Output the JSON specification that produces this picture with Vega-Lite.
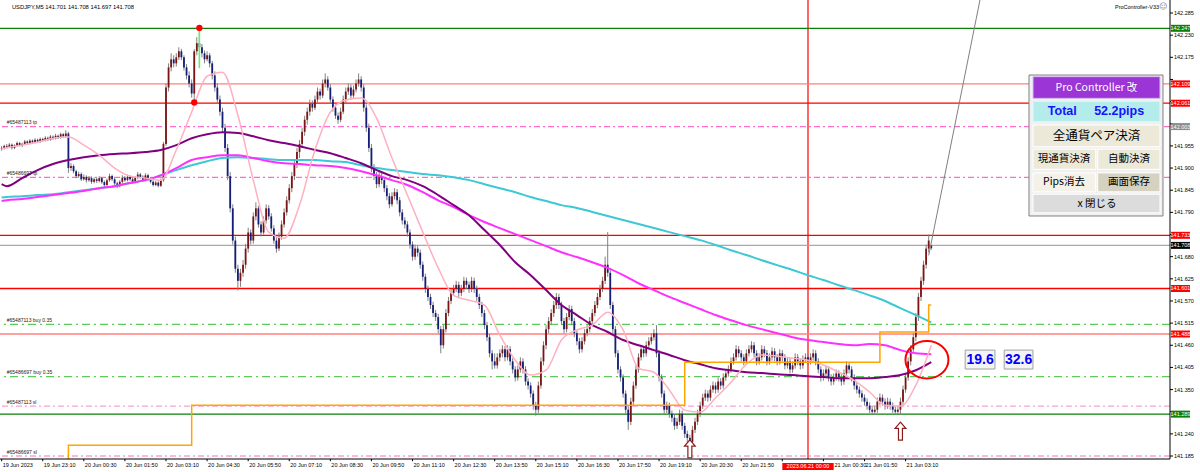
{
"$schema":"https://vega.github.io/schema/vega-lite/v6.json",
"width":1170,"height":459,
"autosize":{"type":"none"},
"padding":{"left":0,"top":0,"right":30,"bottom":13},
"background":"#ffffff",
"config":{"view":{"stroke":null},"font":"Liberation Sans"},
"resolve":{"scale":{"stroke":"independent","fill":"independent","strokeDash":"independent","color":"independent"}},
"layer":[
{"data":{"values":"t\n21 00:00","format":{"type":"csv","parse":{"t":"date:'%d %H:%M'"}}},
 "mark":{"type":"rule","color":"#ff0000","strokeWidth":1.2},
 "encoding":{"x":{"field":"t","type":"temporal","title":null,"axis":null,
     "scale":{"domain":[{"year":1900,"month":1,"date":19,"hours":21,"minutes":46,"seconds":48},{"year":1900,"month":1,"date":21,"hours":11,"minutes":44,"seconds":50}],"nice":false}}}},
{"data":{"values":[{"k":"g","p":142.247},{"k":"g","p":141.289},{"k":"lr","p":142.109},{"k":"lr","p":141.488},{"k":"r","p":142.061},{"k":"r","p":141.733},{"k":"r","p":141.601},{"k":"bid","p":141.708},{"k":"tp","p":142.003},{"k":"tp","p":141.877},{"k":"sl","p":141.309},{"k":"sl","p":141.185},{"k":"buy","p":141.512},{"k":"buy","p":141.382}]},
 "mark":{"type":"rule","strokeWidth":1.3},
 "encoding":{"y":{"field":"p","type":"quantitative","title":null,"axis":null,
     "scale":{"domain":[141.1776,142.3173],"nice":false,"zero":false}},
  "stroke":{"field":"k","type":"nominal","legend":null,"scale":{"domain":["g","r","lr","bid","tp","sl","buy"],"range":["#0a800a","#ff0000","#ff8080","#a8a8b4","#ff6ccc","#ff9fd0","#5acc5a"]}},
  "strokeDash":{"field":"k","type":"nominal","legend":null,"scale":{"domain":["g","r","lr","bid","tp","sl","buy"],"range":[[1,0],[1,0],[1,0],[1,0],[6,3,2,3],[6,3,2,3],[8,4,2,4]]}}}},
{"data":{"values":"t,o,h,l,c\n19 21:50,141.948,141.955,141.943,141.950\n19 21:55,141.950,141.958,141.946,141.955\n19 22:00,141.955,141.960,141.949,141.953\n19 22:05,141.953,141.962,141.950,141.958\n19 22:10,141.958,141.961,141.946,141.950\n19 22:15,141.950,141.959,141.947,141.956\n19 22:20,141.956,141.966,141.953,141.962\n19 22:25,141.962,141.965,141.954,141.957\n19 22:30,141.957,141.963,141.952,141.960\n19 22:35,141.960,141.970,141.957,141.966\n19 22:40,141.966,141.969,141.958,141.962\n19 22:45,141.962,141.972,141.959,141.968\n19 22:50,141.968,141.971,141.960,141.964\n19 22:55,141.964,141.974,141.961,141.970\n19 23:00,141.970,141.973,141.962,141.966\n19 23:05,141.966,141.976,141.963,141.972\n19 23:10,141.972,141.975,141.965,141.969\n19 23:15,141.969,141.979,141.966,141.975\n19 23:20,141.975,141.978,141.967,141.970\n19 23:25,141.970,141.982,141.968,141.978\n19 23:30,141.978,141.981,141.970,141.974\n19 23:35,141.974,141.985,141.971,141.980\n19 23:40,141.980,141.983,141.972,141.976\n19 23:45,141.976,141.988,141.973,141.984\n19 23:50,141.984,141.987,141.975,141.979\n19 23:55,141.979,141.994,141.976,141.986\n20 00:00,141.986,141.990,141.888,141.900\n20 00:05,141.900,141.912,141.893,141.905\n20 00:10,141.905,141.909,141.887,141.892\n20 00:15,141.892,141.896,141.875,141.880\n20 00:20,141.880,141.891,141.876,141.885\n20 00:25,141.885,141.889,141.868,141.872\n20 00:30,141.872,141.884,141.869,141.878\n20 00:35,141.878,141.882,141.864,141.870\n20 00:40,141.870,141.880,141.866,141.875\n20 00:45,141.875,141.879,141.861,141.866\n20 00:50,141.866,141.877,141.862,141.872\n20 00:55,141.872,141.876,141.863,141.868\n20 01:00,141.868,141.880,141.864,141.875\n20 01:05,141.875,141.878,141.861,141.865\n20 01:10,141.865,141.869,141.852,141.858\n20 01:15,141.858,141.874,141.855,141.870\n20 01:20,141.870,141.886,141.866,141.880\n20 01:25,141.880,141.884,141.868,141.872\n20 01:30,141.872,141.876,141.858,141.862\n20 01:35,141.862,141.866,141.850,141.855\n20 01:40,141.855,141.870,141.852,141.866\n20 01:45,141.866,141.882,141.862,141.876\n20 01:50,141.876,141.880,141.866,141.870\n20 01:55,141.870,141.884,141.867,141.878\n20 02:00,141.878,141.882,141.868,141.872\n20 02:05,141.872,141.876,141.861,141.865\n20 02:10,141.865,141.880,141.862,141.876\n20 02:15,141.876,141.890,141.872,141.884\n20 02:20,141.884,141.888,141.874,141.878\n20 02:25,141.878,141.882,141.866,141.870\n20 02:30,141.870,141.887,141.867,141.882\n20 02:35,141.882,141.886,141.870,141.874\n20 02:40,141.874,141.878,141.862,141.866\n20 02:45,141.866,141.870,141.854,141.858\n20 02:50,141.858,141.868,141.855,141.864\n20 02:55,141.864,141.867,141.852,141.856\n20 03:00,141.856,141.874,141.853,141.870\n20 03:05,141.870,141.965,141.866,141.960\n20 03:10,141.960,142.110,141.955,142.100\n20 03:15,142.100,142.160,142.090,142.150\n20 03:20,142.150,142.185,142.140,142.170\n20 03:25,142.170,142.180,142.150,142.160\n20 03:30,142.160,142.185,142.152,142.175\n20 03:35,142.175,142.200,142.168,142.190\n20 03:40,142.190,142.196,142.168,142.175\n20 03:45,142.175,142.180,142.142,142.150\n20 03:50,142.150,142.158,142.120,142.130\n20 03:55,142.130,142.140,142.100,142.110\n20 04:00,142.110,142.120,142.075,142.085\n20 04:05,142.085,142.195,142.063,142.190\n20 04:10,142.190,142.225,142.180,142.210\n20 04:15,142.210,142.248,142.190,142.200\n20 04:20,142.200,142.208,142.175,142.185\n20 04:25,142.185,142.192,142.160,142.170\n20 04:30,142.170,142.190,142.165,142.180\n20 04:35,142.180,142.186,142.150,142.160\n20 04:40,142.160,142.166,142.120,142.130\n20 04:45,142.130,142.140,142.090,142.100\n20 04:50,142.100,142.110,142.060,142.070\n20 04:55,142.070,142.080,142.030,142.040\n20 05:00,142.040,142.050,141.990,142.000\n20 05:05,142.000,142.010,141.940,141.950\n20 05:10,141.950,141.960,141.870,141.880\n20 05:15,141.880,141.890,141.790,141.800\n20 05:20,141.800,141.810,141.710,141.720\n20 05:25,141.720,141.730,141.640,141.650\n20 05:30,141.650,141.660,141.596,141.620\n20 05:35,141.620,141.650,141.605,141.640\n20 05:40,141.640,141.672,141.630,141.660\n20 05:45,141.660,141.712,141.650,141.700\n20 05:50,141.700,141.752,141.690,141.740\n20 05:55,141.740,141.748,141.710,141.720\n20 06:00,141.720,141.790,141.712,141.780\n20 06:05,141.780,141.815,141.770,141.800\n20 06:10,141.800,141.806,141.752,141.760\n20 06:15,141.760,141.768,141.730,141.740\n20 06:20,141.740,141.780,141.735,141.770\n20 06:25,141.770,141.810,141.762,141.800\n20 06:30,141.800,141.808,141.772,141.780\n20 06:35,141.780,141.788,141.742,141.750\n20 06:40,141.750,141.758,141.712,141.720\n20 06:45,141.720,141.728,141.690,141.700\n20 06:50,141.700,141.740,141.694,141.730\n20 06:55,141.730,141.770,141.722,141.760\n20 07:00,141.760,141.800,141.752,141.790\n20 07:05,141.790,141.830,141.782,141.820\n20 07:10,141.820,141.860,141.812,141.850\n20 07:15,141.850,141.890,141.840,141.880\n20 07:20,141.880,141.920,141.870,141.910\n20 07:25,141.910,141.950,141.900,141.940\n20 07:30,141.940,141.970,141.925,141.960\n20 07:35,141.960,142.000,141.950,141.990\n20 07:40,141.990,142.030,141.980,142.020\n20 07:45,142.020,142.050,142.008,142.040\n20 07:50,142.040,142.070,142.030,142.060\n20 07:55,142.060,142.068,142.040,142.050\n20 08:00,142.050,142.080,142.044,142.070\n20 08:05,142.070,142.100,142.062,142.090\n20 08:10,142.090,142.097,142.070,142.080\n20 08:15,142.080,142.120,142.074,142.110\n20 08:20,142.110,142.135,142.100,142.120\n20 08:25,142.120,142.128,142.092,142.100\n20 08:30,142.100,142.108,142.062,142.070\n20 08:35,142.070,142.078,142.040,142.050\n20 08:40,142.050,142.058,142.022,142.030\n20 08:45,142.030,142.038,142.010,142.020\n20 08:50,142.020,142.050,142.014,142.040\n20 08:55,142.040,142.080,142.034,142.070\n20 09:00,142.070,142.100,142.062,142.090\n20 09:05,142.090,142.110,142.082,142.100\n20 09:10,142.100,142.108,142.070,142.080\n20 09:15,142.080,142.105,142.074,142.095\n20 09:20,142.095,142.120,142.088,142.110\n20 09:25,142.110,142.135,142.102,142.120\n20 09:30,142.120,142.128,142.090,142.100\n20 09:35,142.100,142.108,142.040,142.050\n20 09:40,142.050,142.058,141.990,142.000\n20 09:45,142.000,142.010,141.940,141.950\n20 09:50,141.950,141.960,141.890,141.900\n20 09:55,141.900,141.910,141.870,141.880\n20 10:00,141.880,141.890,141.850,141.860\n20 10:05,141.860,141.890,141.852,141.880\n20 10:10,141.880,141.888,141.860,141.870\n20 10:15,141.870,141.878,141.840,141.850\n20 10:20,141.850,141.858,141.820,141.830\n20 10:25,141.830,141.838,141.800,141.810\n20 10:30,141.810,141.840,141.804,141.830\n20 10:35,141.830,141.850,141.822,141.840\n20 10:40,141.840,141.848,141.810,141.820\n20 10:45,141.820,141.828,141.780,141.790\n20 10:50,141.790,141.798,141.760,141.770\n20 10:55,141.770,141.778,141.750,141.760\n20 11:00,141.760,141.768,141.730,141.740\n20 11:05,141.740,141.748,141.700,141.710\n20 11:10,141.710,141.718,141.670,141.680\n20 11:15,141.680,141.710,141.672,141.700\n20 11:20,141.700,141.708,141.680,141.690\n20 11:25,141.690,141.698,141.650,141.660\n20 11:30,141.660,141.668,141.620,141.630\n20 11:35,141.630,141.638,141.590,141.600\n20 11:40,141.600,141.608,141.570,141.580\n20 11:45,141.580,141.588,141.550,141.560\n20 11:50,141.560,141.568,141.530,141.540\n20 11:55,141.540,141.548,141.520,141.530\n20 12:00,141.530,141.538,141.490,141.500\n20 12:05,141.500,141.508,141.440,141.460\n20 12:10,141.460,141.510,141.452,141.500\n20 12:15,141.500,141.550,141.492,141.540\n20 12:20,141.540,141.580,141.532,141.570\n20 12:25,141.570,141.600,141.562,141.590\n20 12:30,141.590,141.610,141.582,141.600\n20 12:35,141.600,141.620,141.592,141.610\n20 12:40,141.610,141.618,141.580,141.590\n20 12:45,141.590,141.610,141.582,141.600\n20 12:50,141.600,141.630,141.592,141.620\n20 12:55,141.620,141.628,141.600,141.610\n20 13:00,141.610,141.618,141.590,141.600\n20 13:05,141.600,141.630,141.592,141.620\n20 13:10,141.620,141.628,141.590,141.600\n20 13:15,141.600,141.608,141.570,141.580\n20 13:20,141.580,141.588,141.550,141.560\n20 13:25,141.560,141.568,141.530,141.540\n20 13:30,141.540,141.548,141.500,141.510\n20 13:35,141.510,141.518,141.470,141.480\n20 13:40,141.480,141.488,141.430,141.440\n20 13:45,141.440,141.448,141.400,141.420\n20 13:50,141.420,141.440,141.402,141.410\n20 13:55,141.410,141.440,141.402,141.430\n20 14:00,141.430,141.450,141.420,141.440\n20 14:05,141.440,141.460,141.430,141.450\n20 14:10,141.450,141.458,141.420,141.430\n20 14:15,141.430,141.460,141.422,141.450\n20 14:20,141.450,141.458,141.410,141.420\n20 14:25,141.420,141.428,141.390,141.400\n20 14:30,141.400,141.408,141.370,141.380\n20 14:35,141.380,141.410,141.372,141.400\n20 14:40,141.400,141.430,141.392,141.420\n20 14:45,141.420,141.428,141.390,141.400\n20 14:50,141.400,141.408,141.360,141.370\n20 14:55,141.370,141.378,141.350,141.360\n20 15:00,141.360,141.368,141.330,141.340\n20 15:05,141.340,141.348,141.300,141.310\n20 15:10,141.310,141.320,141.285,141.300\n20 15:15,141.300,141.370,141.292,141.360\n20 15:20,141.360,141.430,141.352,141.420\n20 15:25,141.420,141.470,141.410,141.460\n20 15:30,141.460,141.510,141.450,141.500\n20 15:35,141.500,141.530,141.490,141.520\n20 15:40,141.520,141.550,141.510,141.540\n20 15:45,141.540,141.570,141.530,141.560\n20 15:50,141.560,141.590,141.550,141.580\n20 15:55,141.580,141.588,141.550,141.560\n20 16:00,141.560,141.568,141.510,141.520\n20 16:05,141.520,141.528,141.490,141.500\n20 16:10,141.500,141.540,141.492,141.530\n20 16:15,141.530,141.560,141.522,141.550\n20 16:20,141.550,141.558,141.510,141.520\n20 16:25,141.520,141.528,141.480,141.490\n20 16:30,141.490,141.498,141.460,141.470\n20 16:35,141.470,141.478,141.440,141.450\n20 16:40,141.450,141.480,141.442,141.470\n20 16:45,141.470,141.500,141.462,141.490\n20 16:50,141.490,141.510,141.482,141.500\n20 16:55,141.500,141.530,141.492,141.520\n20 17:00,141.520,141.550,141.512,141.540\n20 17:05,141.540,141.570,141.532,141.560\n20 17:10,141.560,141.590,141.552,141.580\n20 17:15,141.580,141.610,141.572,141.600\n20 17:20,141.600,141.630,141.592,141.620\n20 17:25,141.620,141.680,141.612,141.660\n20 17:30,141.660,141.741,141.630,141.640\n20 17:35,141.640,141.648,141.550,141.560\n20 17:40,141.560,141.568,141.490,141.500\n20 17:45,141.500,141.508,141.430,141.440\n20 17:50,141.440,141.448,141.390,141.400\n20 17:55,141.400,141.408,141.370,141.380\n20 18:00,141.380,141.388,141.330,141.340\n20 18:05,141.340,141.348,141.290,141.300\n20 18:10,141.300,141.308,141.250,141.270\n20 18:15,141.270,141.330,141.262,141.320\n20 18:20,141.320,141.370,141.312,141.360\n20 18:25,141.360,141.410,141.352,141.400\n20 18:30,141.400,141.440,141.392,141.430\n20 18:35,141.430,141.460,141.422,141.450\n20 18:40,141.450,141.458,141.430,141.440\n20 18:45,141.440,141.470,141.432,141.460\n20 18:50,141.460,141.480,141.452,141.470\n20 18:55,141.470,141.490,141.462,141.480\n20 19:00,141.480,141.500,141.472,141.490\n20 19:05,141.490,141.510,141.430,141.440\n20 19:10,141.440,141.448,141.370,141.380\n20 19:15,141.380,141.388,141.330,141.340\n20 19:20,141.340,141.348,141.290,141.300\n20 19:25,141.300,141.320,141.292,141.310\n20 19:30,141.310,141.318,141.280,141.290\n20 19:35,141.290,141.298,141.270,141.280\n20 19:40,141.280,141.288,141.250,141.260\n20 19:45,141.260,141.280,141.252,141.270\n20 19:50,141.270,141.300,141.262,141.290\n20 19:55,141.290,141.298,141.250,141.260\n20 20:00,141.260,141.268,141.230,141.240\n20 20:05,141.240,141.248,141.220,141.230\n20 20:10,141.230,141.238,141.212,141.220\n20 20:15,141.220,141.260,141.215,141.250\n20 20:20,141.250,141.280,141.242,141.270\n20 20:25,141.270,141.300,141.262,141.290\n20 20:30,141.290,141.320,141.282,141.310\n20 20:35,141.310,141.340,141.302,141.330\n20 20:40,141.330,141.350,141.322,141.340\n20 20:45,141.340,141.348,141.320,141.330\n20 20:50,141.330,141.360,141.322,141.350\n20 20:55,141.350,141.370,141.342,141.360\n20 21:00,141.360,141.368,141.340,141.350\n20 21:05,141.350,141.380,141.342,141.370\n20 21:10,141.370,141.378,141.350,141.360\n20 21:15,141.360,141.390,141.352,141.380\n20 21:20,141.380,141.400,141.372,141.390\n20 21:25,141.390,141.410,141.382,141.400\n20 21:30,141.400,141.430,141.392,141.420\n20 21:35,141.420,141.440,141.412,141.430\n20 21:40,141.430,141.460,141.422,141.450\n20 21:45,141.450,141.458,141.430,141.440\n20 21:50,141.440,141.448,141.420,141.430\n20 21:55,141.430,141.438,141.410,141.420\n20 22:00,141.420,141.450,141.412,141.440\n20 22:05,141.440,141.460,141.432,141.450\n20 22:10,141.450,141.470,141.442,141.460\n20 22:15,141.460,141.468,141.430,141.440\n20 22:20,141.440,141.448,141.410,141.420\n20 22:25,141.420,141.440,141.412,141.430\n20 22:30,141.430,141.460,141.422,141.450\n20 22:35,141.450,141.458,141.430,141.440\n20 22:40,141.440,141.448,141.410,141.420\n20 22:45,141.420,141.440,141.412,141.430\n20 22:50,141.430,141.455,141.422,141.445\n20 22:55,141.445,141.453,141.420,141.430\n20 23:00,141.430,141.438,141.410,141.420\n20 23:05,141.420,141.450,141.412,141.440\n20 23:10,141.440,141.448,141.420,141.430\n20 23:15,141.430,141.438,141.400,141.410\n20 23:20,141.410,141.430,141.402,141.420\n20 23:25,141.420,141.428,141.390,141.400\n20 23:30,141.400,141.420,141.392,141.410\n20 23:35,141.410,141.440,141.402,141.430\n20 23:40,141.430,141.438,141.410,141.420\n20 23:45,141.420,141.428,141.400,141.410\n20 23:50,141.410,141.435,141.402,141.425\n20 23:55,141.425,141.440,141.418,141.430\n21 00:00,141.430,141.438,141.410,141.420\n21 00:05,141.420,141.440,141.412,141.430\n21 00:10,141.430,141.450,141.422,141.440\n21 00:15,141.440,141.448,141.410,141.420\n21 00:20,141.420,141.428,141.390,141.400\n21 00:25,141.400,141.408,141.370,141.380\n21 00:30,141.380,141.400,141.372,141.390\n21 00:35,141.390,141.410,141.382,141.400\n21 00:40,141.400,141.408,141.370,141.380\n21 00:45,141.380,141.388,141.360,141.370\n21 00:50,141.370,141.390,141.362,141.380\n21 00:55,141.380,141.400,141.372,141.390\n21 01:00,141.390,141.398,141.370,141.380\n21 01:05,141.380,141.388,141.360,141.370\n21 01:10,141.370,141.400,141.362,141.390\n21 01:15,141.390,141.420,141.382,141.410\n21 01:20,141.410,141.418,141.390,141.400\n21 01:25,141.400,141.408,141.370,141.380\n21 01:30,141.380,141.388,141.350,141.360\n21 01:35,141.360,141.368,141.340,141.350\n21 01:40,141.350,141.358,141.330,141.340\n21 01:45,141.340,141.348,141.320,141.330\n21 01:50,141.330,141.338,141.310,141.320\n21 01:55,141.320,141.328,141.300,141.310\n21 02:00,141.310,141.318,141.292,141.300\n21 02:05,141.300,141.308,141.288,141.295\n21 02:10,141.295,141.310,141.287,141.300\n21 02:15,141.300,141.330,141.292,141.320\n21 02:20,141.320,141.340,141.312,141.330\n21 02:25,141.330,141.338,141.310,141.320\n21 02:30,141.320,141.328,141.300,141.310\n21 02:35,141.310,141.330,141.302,141.320\n21 02:40,141.320,141.328,141.300,141.310\n21 02:45,141.310,141.318,141.292,141.300\n21 02:50,141.300,141.308,141.290,141.295\n21 02:55,141.295,141.310,141.288,141.300\n21 03:00,141.300,141.330,141.287,141.320\n21 03:05,141.320,141.360,141.312,141.350\n21 03:10,141.350,141.390,141.342,141.380\n21 03:15,141.380,141.430,141.372,141.420\n21 03:20,141.420,141.460,141.410,141.450\n21 03:25,141.450,141.490,141.440,141.480\n21 03:30,141.480,141.540,141.470,141.530\n21 03:35,141.530,141.590,141.520,141.580\n21 03:40,141.580,141.630,141.570,141.620\n21 03:45,141.620,141.670,141.610,141.660\n21 03:50,141.660,141.710,141.650,141.700\n21 03:55,141.700,141.735,141.690,141.720\n21 04:00,141.701,141.708,141.697,141.708","format":{"type":"csv","parse":{"t":"date:'%d %H:%M'","o":"number","h":"number","l":"number","c":"number"}}},
 "layer":[
  {"mark":{"type":"rule","color":"#808080","strokeWidth":1},
   "encoding":{"x":{"field":"t","type":"temporal","axis":null,"title":null},"y":{"field":"l","type":"quantitative","axis":null,"title":null},"y2":{"field":"h"}}},
  {"mark":{"type":"rule","strokeWidth":1.8},
   "encoding":{"x":{"field":"t","type":"temporal","axis":null,"title":null},
    "y":{"field":"o","type":"quantitative","axis":null,"title":null},"y2":{"field":"c"},
    "color":{"condition":{"test":"datum.c >= datum.o","value":"#7a1414"},"value":"#141e78"}}}
 ]},
{"data":{"values":"t,lo,hi\n20 04:15,142.148,142.243","format":{"type":"csv","parse":{"t":"date:'%d %H:%M'","lo":"number","hi":"number"}}},
 "mark":{"type":"rule","color":"#66ee66","strokeWidth":1.6},
 "encoding":{"x":{"field":"t","type":"temporal","axis":null,"title":null},"y":{"field":"lo","type":"quantitative","axis":null,"title":null},"y2":{"field":"hi"}}},
{"data":{"values":"t,cy,mg,pu,pk\n19 21:50,141.827,141.818,141.860,141.948\n19 22:00,141.828,141.820,141.855,141.950\n19 22:30,141.830,141.823,141.875,141.957\n19 23:00,141.833,141.828,141.895,141.964\n19 23:30,141.835,141.833,141.910,141.974\n20 00:00,141.840,141.838,141.920,141.977\n20 00:30,141.845,141.843,141.927,141.957\n20 01:00,141.850,141.850,141.932,141.932\n20 01:30,141.855,141.855,141.935,141.900\n20 02:00,141.863,141.863,141.937,141.880\n20 02:30,141.870,141.870,141.940,141.875\n20 03:00,141.882,141.882,141.945,141.870\n20 03:30,141.895,141.900,141.957,141.945\n20 04:00,141.907,141.920,141.974,142.039\n20 04:30,141.917,141.927,141.984,142.128\n20 05:00,141.925,141.932,141.989,142.138\n20 05:30,141.927,141.932,141.987,142.031\n20 06:00,141.925,141.925,141.979,141.870\n20 06:30,141.922,141.917,141.969,141.741\n20 07:00,141.920,141.912,141.962,141.726\n20 07:30,141.920,141.910,141.954,141.808\n20 08:00,141.920,141.907,141.945,141.945\n20 08:30,141.917,141.905,141.937,142.039\n20 09:00,141.915,141.900,141.925,142.069\n20 09:30,141.907,141.892,141.912,142.074\n20 10:00,141.900,141.882,141.895,142.024\n20 10:30,141.895,141.870,141.880,141.925\n20 11:00,141.890,141.858,141.870,141.833\n20 11:30,141.885,141.840,141.855,141.741\n20 12:00,141.882,141.820,141.833,141.652\n20 12:30,141.877,141.803,141.808,141.584\n20 13:00,141.870,141.783,141.783,141.572\n20 13:30,141.860,141.766,141.746,141.560\n20 14:00,141.850,141.751,141.709,141.485\n20 14:30,141.840,141.736,141.666,141.423\n20 15:00,141.828,141.721,141.634,141.386\n20 15:30,141.818,141.706,141.597,141.398\n20 16:00,141.808,141.691,141.560,141.473\n20 16:30,141.801,141.679,141.535,141.498\n20 17:00,141.791,141.666,141.510,141.510\n20 17:30,141.781,141.652,141.493,141.542\n20 18:00,141.771,141.634,141.473,141.498\n20 18:30,141.761,141.614,141.460,141.403\n20 19:00,141.751,141.597,141.448,141.393\n20 19:30,141.741,141.580,141.436,141.349\n20 20:00,141.731,141.565,141.423,141.299\n20 20:30,141.721,141.550,141.413,141.294\n20 21:00,141.709,141.535,141.403,141.329\n20 21:30,141.696,141.522,141.398,141.368\n20 22:00,141.684,141.510,141.393,141.413\n20 22:30,141.671,141.500,141.391,141.436\n20 23:00,141.659,141.490,141.388,141.433\n20 23:30,141.647,141.480,141.386,141.428\n21 00:00,141.634,141.473,141.383,141.423\n21 00:30,141.622,141.468,141.381,141.411\n21 01:00,141.609,141.463,141.378,141.393\n21 01:30,141.597,141.460,141.378,141.373\n21 02:00,141.584,141.463,141.378,141.344\n21 02:30,141.570,141.460,141.381,141.311\n21 03:00,141.552,141.448,141.386,141.309\n21 03:30,141.535,141.440,141.398,141.361\n21 04:00,141.517,141.438,141.418,141.460","format":{"type":"csv","parse":{"t":"date:'%d %H:%M'","cy":"number","mg":"number","pu":"number","pk":"number"}}},
 "layer":[
  {"mark":{"type":"line","color":"#3cc8d4","strokeWidth":2,"interpolate":"monotone"},"encoding":{"x":{"field":"t","type":"temporal","axis":null,"title":null},"y":{"field":"cy","type":"quantitative","axis":null,"title":null}}},
  {"mark":{"type":"line","color":"#ff30ff","strokeWidth":2,"interpolate":"monotone"},"encoding":{"x":{"field":"t","type":"temporal","axis":null,"title":null},"y":{"field":"mg","type":"quantitative","axis":null,"title":null}}},
  {"mark":{"type":"line","color":"#800080","strokeWidth":2,"interpolate":"monotone"},"encoding":{"x":{"field":"t","type":"temporal","axis":null,"title":null},"y":{"field":"pu","type":"quantitative","axis":null,"title":null}}},
  {"mark":{"type":"line","color":"#ffb0c0","strokeWidth":1.5,"interpolate":"monotone"},"encoding":{"x":{"field":"t","type":"temporal","axis":null,"title":null},"y":{"field":"pk","type":"quantitative","axis":null,"title":null}}}
 ]},
{"data":{"values":"t,p\n20 00:00,141.150\n20 00:00,141.212\n20 04:00,141.311\n20 20:00,141.418\n21 02:20,141.493\n21 03:55,141.560\n21 04:00,141.560","format":{"type":"csv","parse":{"t":"date:'%d %H:%M'","p":"number"}}},
 "mark":{"type":"line","color":"#ffa500","strokeWidth":1.5,"interpolate":"step-after","clip":true},
 "encoding":{"x":{"field":"t","type":"temporal","axis":null,"title":null},"y":{"field":"p","type":"quantitative","axis":null,"title":null}}},
{"data":{"values":"t,p\n21 03:55,141.683\n21 05:45,142.382","format":{"type":"csv","parse":{"t":"date:'%d %H:%M'","p":"number"}}},
 "mark":{"type":"line","color":"#808080","strokeWidth":1,"clip":true},
 "encoding":{"x":{"field":"t","type":"temporal","axis":null,"title":null},"y":{"field":"p","type":"quantitative","axis":null,"title":null}}},
{"data":{"values":[{}]},
 "mark":{"type":"point","shape":"M-1,0A1,0.87,0,1,1,1,0A1,0.87,0,1,1,-1,0Z","size":1849,"filled":false,"stroke":"#ff0000","strokeWidth":2,"opacity":1},
 "encoding":{"x":{"datum":{"year":1900,"month":1,"date":21,"hours":3,"minutes":51,"seconds":36},"type":"temporal","axis":null},"y":{"datum":141.424,"type":"quantitative","axis":null}}},
{"data":{"values":"t,p\n20 20:10,141.203\n21 03:00,141.247","format":{"type":"csv","parse":{"t":"date:'%d %H:%M'","p":"number"}}},
 "mark":{"type":"point","shape":"M0,-1L0.6,-0.3L0.22,-0.3L0.22,1L-0.22,1L-0.22,-0.3L-0.6,-0.3Z","size":324,"filled":true,"fill":"#ffffff","stroke":"#8b1c1c","strokeWidth":1.2,"opacity":1},
 "encoding":{"x":{"field":"t","type":"temporal","axis":null,"title":null},"y":{"field":"p","type":"quantitative","axis":null,"title":null}}},
{"data":{"values":"t,p\n20 04:05,142.063\n20 04:15,142.248","format":{"type":"csv","parse":{"t":"date:'%d %H:%M'","p":"number"}}},
 "mark":{"type":"point","shape":"circle","size":40,"filled":true,"color":"#ff0000","opacity":1},
 "encoding":{"x":{"field":"t","type":"temporal","axis":null,"title":null},"y":{"field":"p","type":"quantitative","axis":null,"title":null}}},
{"data":{"values":[{"n":"#65487113 tp","p":142.003},{"n":"#65486697 tp","p":141.877},{"n":"#65487113 buy 0.35","p":141.512},{"n":"#65486697 buy 0.35","p":141.382},{"n":"#65487113 sl","p":141.309},{"n":"#65486697 sl","p":141.185}]},
 "mark":{"type":"text","align":"left","baseline":"middle","dy":-4.5,"fontSize":5,"font":"Liberation Sans","color":"#202020"},
 "encoding":{"x":{"datum":{"year":1900,"month":1,"date":19,"hours":22,"minutes":0},"type":"temporal","axis":null},"y":{"field":"p","type":"quantitative","axis":null,"title":null},"text":{"field":"n"}}},
{"data":{"values":[{"p":142.285},{"p":142.23},{"p":142.175},{"p":142.12},{"p":142.065},{"p":142.01},{"p":141.955},{"p":141.9},{"p":141.845},{"p":141.79},{"p":141.735},{"p":141.68},{"p":141.625},{"p":141.57},{"p":141.515},{"p":141.46},{"p":141.405},{"p":141.35},{"p":141.295},{"p":141.24},{"p":141.185}]},
 "layer":[
  {"mark":{"type":"rule","color":"#000000","strokeWidth":1},
   "encoding":{"x":{"datum":{"year":1900,"month":1,"date":21,"hours":11,"minutes":44,"seconds":50},"type":"temporal","axis":null},"x2":{"datum":{"year":1900,"month":1,"date":21,"hours":11,"minutes":50,"seconds":40}},"y":{"field":"p","type":"quantitative","axis":null,"title":null}}},
  {"transform":[{"filter":"indexof([142.12,142.065,142.01,141.735,141.295], datum.p) < 0"}],
   "mark":{"type":"text","align":"left","baseline":"middle","fontSize":5.5,"font":"Liberation Sans","color":"#000000"},
   "encoding":{"x":{"datum":{"year":1900,"month":1,"date":21,"hours":11,"minutes":52,"seconds":36},"type":"temporal","axis":null},"y":{"field":"p","type":"quantitative","axis":null,"title":null},"text":{"field":"p","type":"quantitative","format":".3f"}}}
 ]},
{"data":{"values":"t\n19 21:50\n19 23:10\n20 00:30\n20 01:50\n20 03:10\n20 04:30\n20 05:50\n20 07:10\n20 08:30\n20 09:50\n20 11:10\n20 12:30\n20 13:50\n20 15:10\n20 16:30\n20 17:50\n20 19:10\n20 20:30\n20 21:50\n20 23:10\n21 00:30\n21 01:50\n21 03:10","format":{"type":"csv","parse":{"t":"date:'%d %H:%M'"}}},
 "layer":[
  {"mark":{"type":"rule","color":"#000000","strokeWidth":1},
   "encoding":{"x":{"field":"t","type":"temporal","axis":null,"title":null},"y":{"datum":141.1776,"type":"quantitative","axis":null},"y2":{"datum":141.1721}}},
  {"transform":[{"filter":"timeFormat(datum.t,'%d %H:%M') != '19 21:50' && timeFormat(datum.t,'%d %H:%M') != '20 23:10' && timeFormat(datum.t,'%d %H:%M') != '21 00:30'"}],
   "mark":{"type":"text","align":"left","baseline":"top","dx":1,"fontSize":5.5,"font":"Liberation Sans","color":"#000000"},
   "encoding":{"x":{"field":"t","type":"temporal","axis":null,"title":null},"y":{"datum":141.1682,"type":"quantitative","axis":null},"text":{"field":"t","type":"temporal","format":"%d Jun %H:%M"}}},
  {"transform":[{"filter":"timeFormat(datum.t,'%d %H:%M') == '21 00:30'"}],
   "mark":{"type":"text","align":"left","baseline":"top","dx":11,"fontSize":5.5,"font":"Liberation Sans","color":"#000000"},
   "encoding":{"x":{"field":"t","type":"temporal","axis":null,"title":null},"y":{"datum":141.1682,"type":"quantitative","axis":null},"text":{"field":"t","type":"temporal","format":"%d Jun %H:%M"}}}
 ]},
{"data":{"values":[{}]},
 "layer":[
  {"mark":{"type":"rule","color":"#000000","strokeWidth":1},
   "encoding":{"x":{"datum":{"year":1900,"month":1,"date":21,"hours":11,"minutes":44,"seconds":50},"type":"temporal","axis":null}}},
  {"mark":{"type":"rule","color":"#000000","strokeWidth":1},
   "encoding":{"y":{"datum":141.1776,"type":"quantitative","axis":null}}},
  {"mark":{"type":"text","align":"left","baseline":"top","dx":1,"fontSize":5.5,"font":"Liberation Sans","color":"#000000","text":"19 Jun 2023"},
   "encoding":{"x":{"datum":{"year":1900,"month":1,"date":19,"hours":21,"minutes":50},"type":"temporal","axis":null},"y":{"datum":141.1682,"type":"quantitative","axis":null}}}
 ]},
{"data":{"values":[{"k":"g","p":142.247},{"k":"r","p":142.109},{"k":"r","p":142.061},{"k":"gray","p":142.003},{"k":"r","p":141.733},{"k":"bid","p":141.708},{"k":"r","p":141.601},{"k":"r","p":141.488},{"k":"g","p":141.289}]},
 "layer":[
  {"mark":{"type":"rule","strokeWidth":7,"strokeCap":"butt"},
   "encoding":{"x":{"datum":{"year":1900,"month":1,"date":21,"hours":11,"minutes":46,"seconds":48},"type":"temporal","axis":null},"x2":{"datum":{"year":1900,"month":1,"date":21,"hours":12,"minutes":23,"seconds":45}},"y":{"field":"p","type":"quantitative","axis":null,"title":null},
    "stroke":{"field":"k","type":"nominal","legend":null,"scale":{"domain":["g","r","gray","bid"],"range":["#0a800a","#ff0000","#8c8c8c","#000000"]}}}},
  {"mark":{"type":"text","align":"center","baseline":"middle","fontSize":5.5,"font":"Liberation Sans","color":"#ffffff"},
   "encoding":{"x":{"datum":{"year":1900,"month":1,"date":21,"hours":12,"minutes":5,"seconds":15},"type":"temporal","axis":null},"y":{"field":"p","type":"quantitative","axis":null,"title":null},"text":{"field":"p","type":"quantitative","format":".3f"}}}
 ]},
{"data":{"values":[{"s":"2023.06.21 00:00","p":141.1590}]},
 "layer":[
  {"mark":{"type":"rule","strokeWidth":7,"strokeCap":"butt","color":"#ff0000"},
   "encoding":{"x":{"datum":{"year":1900,"month":1,"date":20,"hours":23,"minutes":10},"type":"temporal","axis":null},"x2":{"datum":{"year":1900,"month":1,"date":21,"hours":0,"minutes":50}},"y":{"field":"p","type":"quantitative","axis":null,"title":null}}},
  {"mark":{"type":"text","align":"center","baseline":"middle","fontSize":5.5,"font":"Liberation Sans","color":"#ffffff"},
   "encoding":{"x":{"datum":{"year":1900,"month":1,"date":21,"hours":0,"minutes":0},"type":"temporal","axis":null},"y":{"field":"p","type":"quantitative","axis":null,"title":null},"text":{"field":"s"}}}
 ]},
{"data":{"values":[{}]},
 "layer":[
  {"mark":{"type":"text","align":"left","baseline":"middle","fontSize":5.8,"font":"Liberation Sans","color":"#000000","text":"USDJPY,M5  141.701 141.708 141.697 141.708"},
   "encoding":{"x":{"datum":{"year":1900,"month":1,"date":19,"hours":22,"minutes":10},"type":"temporal","axis":null},"y":{"datum":142.300,"type":"quantitative","axis":null}}},
  {"mark":{"type":"text","align":"right","baseline":"middle","fontSize":5.5,"font":"Liberation Sans","color":"#000000","text":"ProController-V33"},
   "encoding":{"x":{"datum":{"year":1900,"month":1,"date":21,"hours":11,"minutes":23,"seconds":30},"type":"temporal","axis":null},"y":{"datum":142.300,"type":"quantitative","axis":null}}},
  {"mark":{"type":"text","align":"center","baseline":"middle","fontSize":8,"font":"DejaVu Sans","color":"#808080","text":"☺"},
   "encoding":{"x":{"datum":{"year":1900,"month":1,"date":21,"hours":11,"minutes":32},"type":"temporal","axis":null},"y":{"datum":142.300,"type":"quantitative","axis":null}}}
 ]},
{"data":{"values":"b,t1,t2,p1,p2\nouter,21 07:10:18,21 11:31:12,142.131,141.781\nhdr,21 07:18:06,21 11:25:21,142.127,142.073\ntot,21 07:18:06,21 11:25:21,142.066,142.015\nall,21 07:18:06,21 11:25:21,142.007,141.953\ncur,21 07:18:06,21 09:20:10,141.947,141.897\nauto,21 09:24:04,21 11:25:21,141.947,141.897\npips,21 07:18:06,21 09:20:10,141.888,141.841\nsave,21 09:24:04,21 11:25:21,141.888,141.841\nclose,21 07:18:06,21 11:25:21,141.835,141.789\nbox1,21 05:06:00,21 06:04:00,141.448,141.401\nbox2,21 06:22:00,21 07:18:00,141.448,141.401","format":{"type":"csv","parse":{"t1":"date:'%d %H:%M:%S'","t2":"date:'%d %H:%M:%S'","p1":"number","p2":"number"}}},
 "mark":{"type":"rect","strokeWidth":1},
 "encoding":{"x":{"field":"t1","type":"temporal","axis":null,"title":null},"x2":{"field":"t2"},"y":{"field":"p1","type":"quantitative","axis":null,"title":null},"y2":{"field":"p2"},
  "fill":{"field":"b","type":"nominal","legend":null,"scale":{"domain":["outer","hdr","tot","all","cur","auto","pips","save","close","box1","box2"],"range":["#f0f0f0","#9b35d6","#b4ecec","#ece9d8","#ece9d8","#ece9d8","#f4f2e8","#d6d2c2","#dcdcdc","#f4f4f4","#f4f4f4"]}},
  "stroke":{"field":"b","type":"nominal","legend":null,"scale":{"domain":["outer","hdr","tot","all","cur","auto","pips","save","close","box1","box2"],"range":["#808080","#d8c0f0","#e0f8f8","#ffffff","#ffffff","#ffffff","#ffffff","#ffffff","#ffffff","#a0a0a0","#a0a0a0"]}}}},
{"data":{"values":"g,s,t,p\nhdr,Pro Controller 改,21 09:21:42,142.100\nbig,全通貨ペア決済,21 09:21:42,141.980\nsm,現通貨決済,21 08:18:27,141.922\nsm,自動決済,21 10:25:00,141.922\nsm,Pips消去,21 08:18:27,141.865\nsm,画面保存,21 10:25:00,141.865\nsm,x 閉じる,21 09:22:42,141.812\ntot,Total\u00a0\u00a0\u00a0\u00a0\u00a052.2pips,21 09:20:45,142.041\nnum,19.6,21 05:35:00,141.4245\nnum,32.6,21 06:50:00,141.4245","format":{"type":"csv","parse":{"t":"date:'%d %H:%M:%S'","p":"number"}}},
 "layer":[
  {"transform":[{"filter":"datum.g=='hdr'"}],"mark":{"type":"text","align":"center","baseline":"middle","fontSize":10.5,"font":"Noto Sans CJK JP","color":"#ffffff"},
   "encoding":{"x":{"field":"t","type":"temporal","axis":null,"title":null},"y":{"field":"p","type":"quantitative","axis":null,"title":null},"text":{"field":"s"}}},
  {"transform":[{"filter":"datum.g=='big'"}],"mark":{"type":"text","align":"center","baseline":"middle","fontSize":12.5,"font":"Noto Sans CJK JP","color":"#000000"},
   "encoding":{"x":{"field":"t","type":"temporal","axis":null,"title":null},"y":{"field":"p","type":"quantitative","axis":null,"title":null},"text":{"field":"s"}}},
  {"transform":[{"filter":"datum.g=='sm'"}],"mark":{"type":"text","align":"center","baseline":"middle","fontSize":10.5,"font":"Noto Sans CJK JP","color":"#000000"},
   "encoding":{"x":{"field":"t","type":"temporal","axis":null,"title":null},"y":{"field":"p","type":"quantitative","axis":null,"title":null},"text":{"field":"s"}}},
  {"transform":[{"filter":"datum.g=='tot'"}],"mark":{"type":"text","align":"center","baseline":"middle","fontSize":12.5,"fontWeight":"bold","font":"Liberation Sans","color":"#1414ff"},
   "encoding":{"x":{"field":"t","type":"temporal","axis":null,"title":null},"y":{"field":"p","type":"quantitative","axis":null,"title":null},"text":{"field":"s"}}},
  {"transform":[{"filter":"datum.g=='num'"}],"mark":{"type":"text","align":"center","baseline":"middle","fontSize":14,"fontWeight":"bold","font":"Liberation Sans","color":"#0000ff"},
   "encoding":{"x":{"field":"t","type":"temporal","axis":null,"title":null},"y":{"field":"p","type":"quantitative","axis":null,"title":null},"text":{"field":"s"}}}
 ]}
]
}
